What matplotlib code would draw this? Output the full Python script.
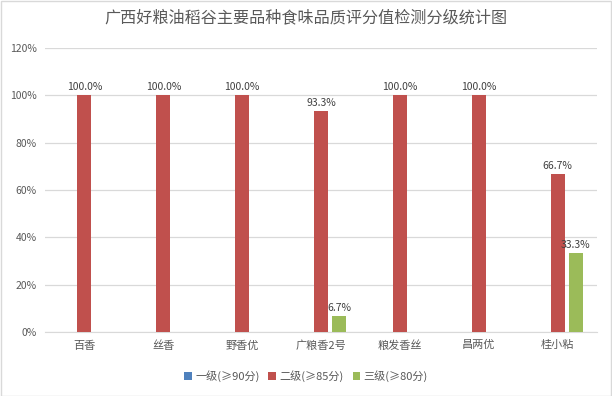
import matplotlib
matplotlib.use("Agg")
import matplotlib.pyplot as plt
import numpy as np
from matplotlib.patches import Rectangle

plt.rcParams['font.family'] = ['Noto Sans CJK SC', 'DejaVu Sans']

categories = ['百香', '丝香', '野香优', '广粮香2号', '粮发香丝', '昌两优', '桂小粘']
series_names = ['一级(≥90分)', '二级(≥85分)', '三级(≥80分)']
grade1 = [0, 0, 0, 0, 0, 0, 0]
grade2 = [100.0, 100.0, 100.0, 93.3, 100.0, 100.0, 66.7]
grade3 = [0, 0, 0, 6.7, 0, 0, 33.3]
colors = ['#4F81BD', '#C0504D', '#9BBB59']
yticks = [0, 20, 40, 60, 80, 100, 120]

fig = plt.figure(figsize=(6.12, 3.96), dpi=100)
ax = fig.add_axes([45/612, 1-332/396, (597-45)/612, (332-48)/396])

x = np.arange(len(categories))
w = 0.178
step = 0.228
txt = '#404040'
for i, (vals, name, c) in enumerate(zip([grade1, grade2, grade3], series_names, colors)):
    pos = x + (i - 1) * step
    bars = ax.bar(pos, vals, width=w, color=c, label=name, zorder=3)
    for p, v in zip(pos, vals):
        if v > 0:
            ax.text(p, v + 1.5, f'{v:.1f}%', ha='center', va='bottom', fontsize=7.5, color=txt)

ax.set_xlim(-0.5, len(categories) - 0.5)
ax.set_ylim(0, 120)
ax.set_yticks(yticks)
ax.set_yticklabels([f'{t}%' for t in yticks], fontsize=7.5, color='#595959')
ax.set_xticks(x)
ax.set_xticklabels(categories, fontsize=8, color='#595959')
ax.tick_params(axis='both', length=0, pad=6)
ax.yaxis.grid(True, color='#D9D9D9', linewidth=0.9, zorder=0)
for s in ['top', 'right', 'left']:
    ax.spines[s].set_visible(False)
ax.spines['bottom'].set_color('#D9D9D9')

fig.text(0.5, 1 - 18/396, '广西好粮油稻谷主要品种食味品质评分值检测分级统计图', ha='center', va='center',
         fontsize=11.6, color='#595959')

fig.legend(loc='center', bbox_to_anchor=(0.5, 1 - 376/396), ncol=3, frameon=False,
           fontsize=8, handlelength=0.7, handleheight=0.7, handletextpad=0.3, columnspacing=0.8,
           labelcolor='#595959')

fig.patches.append(Rectangle((0.5/612, 0.5/396), 1 - 1.5/612, 1 - 1.5/396, transform=fig.transFigure,
                             fill=False, edgecolor='#D9D9D9', linewidth=1))

fig.savefig('out.png', dpi=100)
